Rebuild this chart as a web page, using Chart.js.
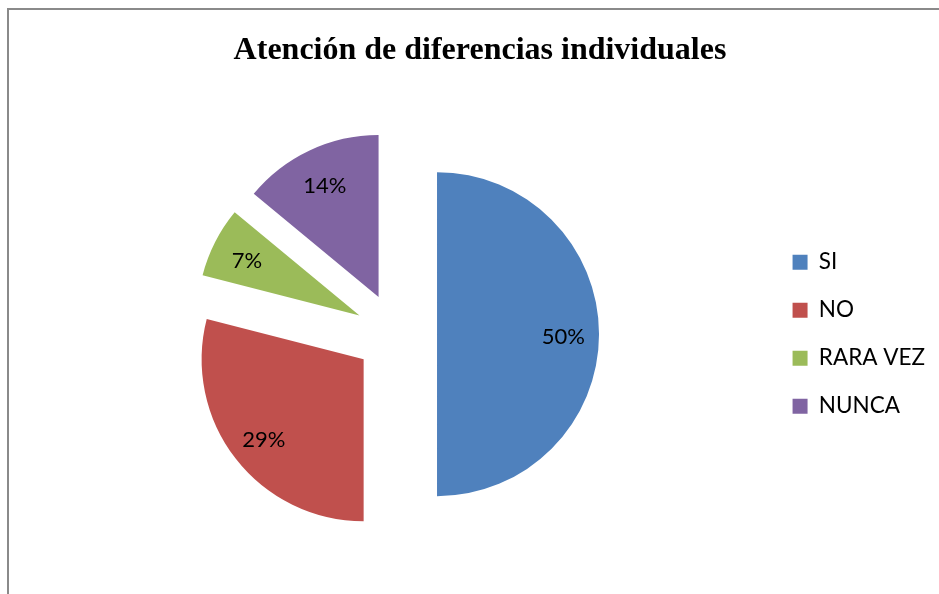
<!DOCTYPE html>
<html>
<head>
<meta charset="utf-8">
<script src="https://cdn.jsdelivr.net/npm/chart.js@4"></script>
<style>
html,body{margin:0;padding:0;background:#fff;overflow:hidden;}
#wrap{width:939px;height:594px;position:relative;}
</style>
</head>
<body>
<div id="wrap"><canvas id="c" width="939" height="594"></canvas></div>
<script>
// ---- data ----
const categories = ['SI', 'NO', 'RARA VEZ', 'NUNCA'];
const percentValues = [50, 29, 7, 14];
const sliceColors = ['#4F81BD', '#C0504D', '#9BBB59', '#8064A2'];
const chartTitle = 'Atención de diferencias individuales';

// ---- style constants ----
const EXPLODE = 41;          // px each slice is pulled out
const LABEL_FRAC = 0.78;     // label position along the radius
const LABEL_DY = 3;          // baseline nudge for label text

const framePlugin = {
  id: 'frame',
  beforeDraw(chart) {
    const ctx = chart.ctx;
    ctx.save();
    ctx.fillStyle = '#ffffff';
    ctx.fillRect(0, 0, chart.width, chart.height);
    ctx.strokeStyle = '#8a8a8a';
    ctx.lineWidth = 2;
    ctx.strokeRect(8, 9, 2000, 2000);
    ctx.restore();
  }
};

const explodePlugin = {
  id: 'explode',
  beforeDatasetsDraw(chart) {
    const ctx = chart.ctx;
    const meta = chart.getDatasetMeta(0);
    meta.data.forEach((arc) => {
      const mid = (arc.startAngle + arc.endAngle) / 2;
      ctx.save();
      ctx.translate(Math.cos(mid) * EXPLODE, Math.sin(mid) * EXPLODE);
      arc.draw(ctx);
      ctx.restore();
    });
    return false;
  },
  afterDraw(chart) {
    const ctx = chart.ctx;
    const meta = chart.getDatasetMeta(0);
    const ds = chart.data.datasets[0];
    ctx.save();
    ctx.font = '22px Lato';
    ctx.fillStyle = '#000';
    ctx.textAlign = 'center';
    ctx.textBaseline = 'middle';
    meta.data.forEach((arc, i) => {
      const mid = (arc.startAngle + arc.endAngle) / 2;
      const d = EXPLODE + arc.outerRadius * LABEL_FRAC;
      ctx.fillText(ds.data[i] + '%', arc.x + Math.cos(mid) * d, arc.y + Math.sin(mid) * d + LABEL_DY);
    });
    ctx.restore();
  }
};

new Chart(document.getElementById('c'), {
  type: 'pie',
  data: {
    labels: categories,
    datasets: [{
      data: percentValues,
      backgroundColor: sliceColors,
      borderWidth: 0,
      radius: 162
    }]
  },
  options: {
    responsive: false,
    animation: false,
    events: [],
    layout: { padding: { left: 25, right: 4, top: 0, bottom: 2 } },
    plugins: {
      tooltip: { enabled: false },
      title: {
        display: true,
        text: chartTitle,
        color: '#000',
        font: { family: 'Liberation Serif', size: 32, weight: 'bold' },
        padding: { top: 32, bottom: 6 }
      },
      legend: {
        position: 'right',
        fullSize: false,
        align: 'center',
        labels: {
          color: '#000',
          font: { family: 'Lato', size: 22.5 },
          boxWidth: 15,
          boxHeight: 15,
          padding: 25.5
        }
      }
    }
  },
  plugins: [framePlugin, explodePlugin]
});
</script>
</body>
</html>
